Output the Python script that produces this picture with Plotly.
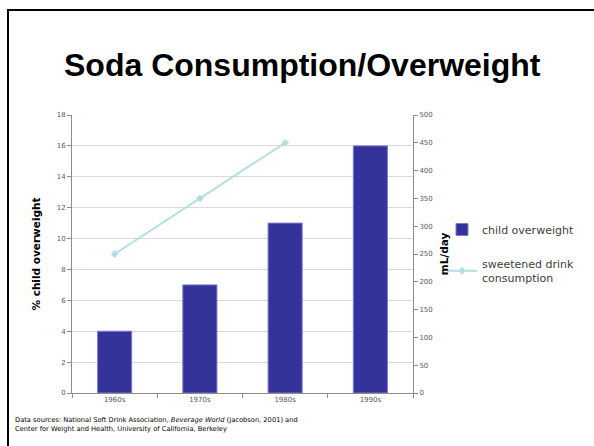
import plotly.graph_objects as go

decades = ["1960s", "1970s", "1980s", "1990s"]
child_overweight = [4, 7, 11, 16]
drink_decades = ["1960s", "1970s", "1980s"]
drink_ml_per_day = [250, 350, 450]

W, H = 594, 446
L, R, T, B = 72, 413, 115, 393

def px_x(px):
    return (px - L) / (R - L)

def px_y(py):
    return (B - py) / (B - T)

fig = go.Figure()
fig.add_trace(go.Bar(
    x=decades, y=child_overweight, name="child overweight",
    marker=dict(color="#333399", line=dict(color="#7a7ad0", width=1)),
    width=0.4, yaxis="y", legendgroup="a",
))
fig.add_trace(go.Scatter(
    x=drink_decades, y=drink_ml_per_day, name="sweetened drink<br>consumption",
    mode="lines+markers", yaxis="y2", legendgroup="b",
    line=dict(color="#b4dfe2", width=2),
    marker=dict(symbol="diamond", size=6, color="#b4dfe2"),
))

tickfont = dict(family="DejaVu Sans", size=7, color="#595959")
fig.update_layout(
    width=W, height=H,
    margin=dict(l=L, r=W - R, t=T, b=H - B, autoexpand=False),
    paper_bgcolor="white", plot_bgcolor="white",
    showlegend=True,
    legend=dict(x=px_x(442), y=px_y(215), xanchor="left", yanchor="top",
                font=dict(family="DejaVu Sans", size=11, color="#404040"),
                bgcolor="rgba(0,0,0,0)", tracegroupgap=16, itemwidth=30,
                traceorder="grouped"),
    xaxis=dict(type="category", showline=True, linecolor="#8c8c8c", linewidth=1,
               ticks="outside", tickson="boundaries", ticklen=4, tickcolor="#8c8c8c",
               tickfont=tickfont, showgrid=False, range=[-0.5, 3.5]),
    yaxis=dict(range=[0, 18], dtick=2, showline=True, linecolor="#8c8c8c", linewidth=1,
               ticks="outside", ticklen=4, tickcolor="#8c8c8c", tickfont=tickfont,
               showgrid=True, gridcolor="#d9d9d9", gridwidth=1, zeroline=False,
               title=dict(text="<b>% child overweight</b>", standoff=14,
                          font=dict(family="DejaVu Sans", size=10.5, color="black"))),
    yaxis2=dict(range=[0, 500], dtick=50, overlaying="y", side="right",
                showline=True, linecolor="#8c8c8c", linewidth=1,
                ticks="outside", ticklen=4, tickcolor="#8c8c8c", tickfont=tickfont,
                showgrid=False, zeroline=False,
                title=dict(text="<b>mL/day</b>", standoff=8,
                           font=dict(family="DejaVu Sans", size=10.5, color="black"))),
)

fig.add_annotation(text="<b>Soda Consumption/Overweight</b>", xref="paper", yref="paper",
                   x=px_x(302), y=px_y(65), xanchor="center", yanchor="middle",
                   showarrow=False, font=dict(family="Liberation Sans", size=32, color="black"))
fig.add_annotation(text="Data sources: National Soft Drink Association, <i>Beverage World</i> (Jacobson, 2001) and<br>Center for Weight and Health, University of California, Berkeley",
                   xref="paper", yref="paper", x=px_x(13), y=px_y(414), xanchor="left", yanchor="top",
                   align="left", showarrow=False,
                   font=dict(family="DejaVu Sans", size=6.7, color="black"))

fig.add_shape(type="line", xref="paper", yref="paper", x0=px_x(8), x1=px_x(8),
              y0=px_y(10), y1=px_y(450), line=dict(color="black", width=2))
fig.add_shape(type="line", xref="paper", yref="paper", x0=px_x(7), x1=px_x(600),
              y0=px_y(10), y1=px_y(10), line=dict(color="black", width=2))

fig.write_html("out.html")
